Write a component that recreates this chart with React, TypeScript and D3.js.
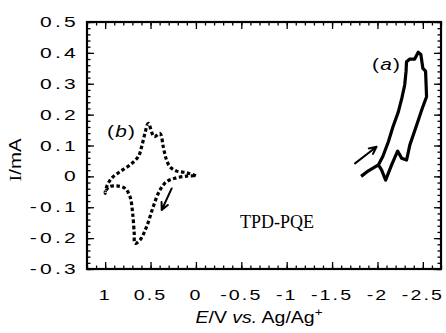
import React, { useRef, useEffect } from 'react';
import * as d3 from 'd3';

// x ticks (potential, V) and y ticks (current, mA)
const E_TICKS = [1, 0.5, 0, -0.5, -1, -1.5, -2, -2.5];
const E_LABELS = ['1', '0.5', '0', '-0.5', '-1', '-1.5', '-2', '-2.5'];
const I_TICKS = [0.5, 0.4, 0.3, 0.2, 0.1, 0, -0.1, -0.2, -0.3];
const I_LABELS = ['0.5', '0.4', '0.3', '0.2', '0.1', '0', '-0.1', '-0.2', '-0.3'];

// (a) reduction wave, solid
const curveA: [number, number][] = [
  [-1.82, 0.0], [-1.9, 0.018], [-2.01, 0.037], [-2.06, 0.065], [-2.12, 0.112],
  [-2.17, 0.16], [-2.23, 0.209], [-2.27, 0.255], [-2.3, 0.296], [-2.315, 0.34],
  [-2.32, 0.371], [-2.357, 0.38], [-2.41, 0.38], [-2.449, 0.402], [-2.478, 0.395],
  [-2.5, 0.35], [-2.53, 0.341], [-2.541, 0.258], [-2.493, 0.22], [-2.42, 0.156],
  [-2.357, 0.102], [-2.321, 0.053], [-2.266, 0.059], [-2.222, 0.082], [-2.156, 0.037],
  [-2.09, -0.012], [-2.045, 0.021], [-2.01, 0.037],
];

// (b) oxidation wave, dotted
const curveB: [number, number][] = [
  [0.0, 0.002], [0.1, 0.012], [0.212, 0.017], [0.286, 0.031], [0.33, 0.059],
  [0.36, 0.096], [0.396, 0.139], [0.46, 0.129], [0.525, 0.172], [0.561, 0.14],
  [0.598, 0.096], [0.635, 0.064], [0.726, 0.037], [0.837, 0.015], [0.928, -0.006],
  [0.983, -0.033], [1.0, -0.055],
  [0.965, -0.035], [0.873, -0.031], [0.78, -0.039], [0.726, -0.066], [0.697, -0.12],
  [0.68, -0.184], [0.671, -0.217], [0.616, -0.206], [0.543, -0.163], [0.47, -0.098],
  [0.396, -0.044], [0.322, -0.017], [0.231, -0.006], [0.1, 0.001], [0.0, 0.002],
];

// scan direction arrows: [from, to]
const arrowA: [number, number][] = [[-1.753, 0.042], [-1.99, 0.096]];
const arrowB: [number, number][] = [[0.267, -0.039], [0.377, -0.109]];

const W = 446;
const H = 333;
const mLeft = 87, mRight = 441, mTop = 22, mBottom = 269;
const SANS = '"Liberation Sans", Arial, sans-serif';
const SERIF = '"Liberation Serif", "Times New Roman", serif';

const x = d3.scaleLinear().domain([1.2, -2.7]).range([mLeft, mRight]);
const y = d3.scaleLinear().domain([-0.3, 0.5]).range([mBottom, mTop]);

const Wide = ({ x, y, anchor = 'start', size = 14, sx = 1.35, ls = 0, family = SANS, children }: any) => (
  <g transform={`translate(${x},${y}) scale(${sx},1)`}>
    <text textAnchor={anchor} fontSize={size} letterSpacing={ls} fontFamily={family} fill="#000">
      {children}
    </text>
  </g>
);

export default function App() {
  const frameRef = useRef<SVGGElement>(null);

  useEffect(() => {
    if (!frameRef.current) return;
    const g = d3.select(frameRef.current);
    g.selectAll('*').remove();

    const xMinor = d3.range(-27, 13).map(v => v / 10);
    const yMinor = d3.range(-15, 26).map(v => v / 50);

    // inward ticks on all four sides, no labels (labels are drawn separately)
    const addX = (ticks: number[], len: number) => {
      g.append('g').attr('transform', `translate(0,${mBottom})`)
        .call(d3.axisTop(x).tickValues(ticks).tickSize(len).tickFormat(() => '').tickSizeOuter(0));
      g.append('g').attr('transform', `translate(0,${mTop})`)
        .call(d3.axisBottom(x).tickValues(ticks).tickSize(len).tickFormat(() => '').tickSizeOuter(0));
    };
    const addY = (ticks: number[], len: number) => {
      g.append('g').attr('transform', `translate(${mLeft},0)`)
        .call(d3.axisRight(y).tickValues(ticks).tickSize(len).tickFormat(() => '').tickSizeOuter(0));
      g.append('g').attr('transform', `translate(${mRight},0)`)
        .call(d3.axisLeft(y).tickValues(ticks).tickSize(len).tickFormat(() => '').tickSizeOuter(0));
    };
    addX(xMinor, 3.5);
    addX(E_TICKS, 7);
    addY(yMinor, 3.5);
    addY(I_TICKS, 7);
    g.selectAll('.domain').remove();
    g.selectAll('.tick line').attr('stroke', '#000').attr('stroke-width', 1.3);

    g.append('rect')
      .attr('x', mLeft).attr('y', mTop)
      .attr('width', mRight - mLeft).attr('height', mBottom - mTop)
      .attr('fill', 'none').attr('stroke', '#000').attr('stroke-width', 2.2);
  }, []);

  const lineA = d3.line<[number, number]>().x(d => x(d[0])).y(d => y(d[1]));
  const lineB = d3.line<[number, number]>().x(d => x(d[0])).y(d => y(d[1])).curve(d3.curveCatmullRom.alpha(0.5));

  const arrow = (a: [number, number][], key: string) => {
    const x0 = x(a[0][0]), y0 = y(a[0][1]), x1 = x(a[1][0]), y1 = y(a[1][1]);
    const ang = Math.atan2(y1 - y0, x1 - x0);
    const hl = 8, spread = 0.45;
    const p1 = [x1 - hl * Math.cos(ang - spread), y1 - hl * Math.sin(ang - spread)];
    const p2 = [x1 - hl * Math.cos(ang + spread), y1 - hl * Math.sin(ang + spread)];
    return (
      <path key={key} d={`M${x0},${y0}L${x1},${y1}M${p1[0]},${p1[1]}L${x1},${y1}L${p2[0]},${p2[1]}`}
        stroke="#000" strokeWidth={2} fill="none" strokeLinecap="round" strokeLinejoin="round" />
    );
  };

  return (
    <svg width={W} height={H} style={{ position: 'absolute', left: 0, top: 0, background: '#fff' }}>
      <g ref={frameRef} />

      {/* tick labels */}
      {E_TICKS.map((v, i) => (
        <Wide key={'xl' + i} x={x(v)} y={300} anchor="middle" size={14} sx={1.4} ls={1.5}>{E_LABELS[i]}</Wide>
      ))}
      {I_TICKS.map((v, i) => (
        <Wide key={'yl' + i} x={79} y={y(v) + 5} anchor="end" size={14} sx={1.5} ls={2.2}>{I_LABELS[i]}</Wide>
      ))}

      {/* axis titles */}
      <g transform={`translate(21,160) rotate(-90) scale(1.2,1)`}>
        <text textAnchor="middle" fontSize={17} fontFamily={SANS} fill="#000">
          <tspan fontFamily={SERIF}>I</tspan>/mA
        </text>
      </g>
      <g transform={`translate(259,323) scale(1.22,1)`}>
        <text textAnchor="middle" fontSize={16} fontFamily={SANS} fill="#000">
          <tspan fontStyle="italic">E</tspan>/V <tspan fontStyle="italic">vs.</tspan> Ag/Ag
          <tspan fontSize={11} dy={-7}>+</tspan>
        </text>
      </g>

      {/* curves */}
      <path d={lineA(curveA) || ''} fill="none" stroke="#000" strokeWidth={3.2} strokeLinejoin="round" />
      <path d={lineB(curveB) || ''} fill="none" stroke="#000" strokeWidth={3.2} strokeDasharray="3.5,2.5" />
      {arrow(arrowA, 'aa')}
      {arrow(arrowB, 'ab')}

      {/* annotations */}
      <Wide x={107} y={137} size={16} sx={1.3} ls={1}>(<tspan fontStyle="italic">b</tspan>)</Wide>
      <Wide x={372} y={70} size={16} sx={1.3} ls={1}>(<tspan fontStyle="italic">a</tspan>)</Wide>
      <text x={277} y={228} textAnchor="middle" fontSize={18} fontFamily={SERIF} fill="#000">TPD-PQE</text>
    </svg>
  );
}
